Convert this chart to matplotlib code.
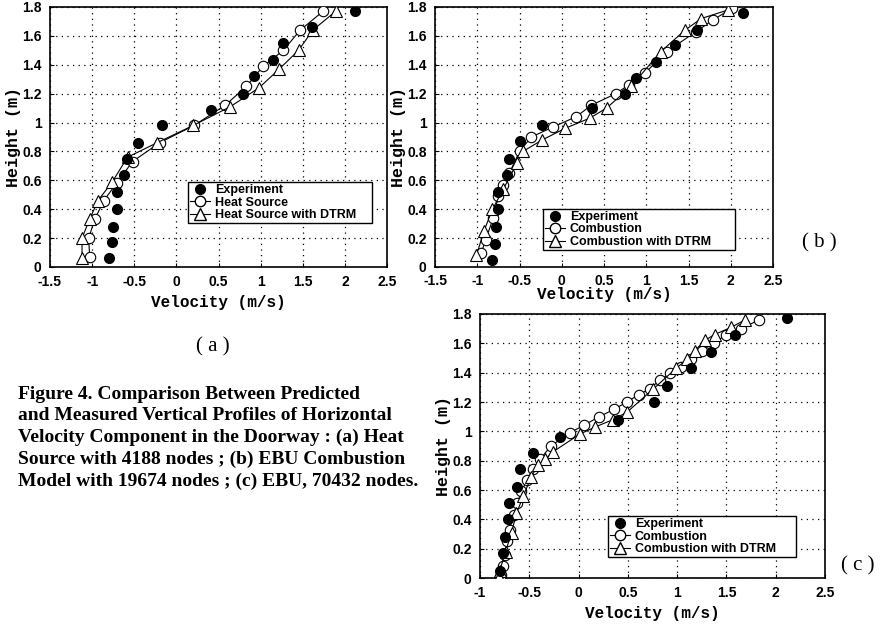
import matplotlib
matplotlib.use("Agg")
import matplotlib.pyplot as plt
from matplotlib.lines import Line2D

# ---------------- data ----------------
# Panel (a)
a_exp_v = [2.12, 1.61, 1.26, 1.15, 0.92, 0.79, 0.41, -0.17, -0.45, -0.59, -0.62, -0.71, -0.71, -0.75, -0.76, -0.80]
a_exp_h = [1.77, 1.66, 1.55, 1.43, 1.32, 1.20, 1.09, 0.98, 0.86, 0.75, 0.64, 0.52, 0.40, 0.28, 0.17, 0.06]
a_hs_v = [1.74, 1.47, 1.27, 1.03, 0.83, 0.58, 0.21, -0.20, -0.52, -0.71, -0.86, -0.97, -1.04, -1.03]
a_hs_h = [1.77, 1.64, 1.50, 1.39, 1.25, 1.12, 0.98, 0.86, 0.73, 0.58, 0.46, 0.33, 0.20, 0.07]
a_dt_v = [1.89, 1.62, 1.45, 1.22, 0.98, 0.64, 0.20, -0.23, -0.58, -0.76, -0.93, -1.03, -1.12, -1.12]
a_dt_h = [1.77, 1.64, 1.50, 1.37, 1.24, 1.11, 0.98, 0.86, 0.76, 0.59, 0.46, 0.33, 0.20, 0.06]

# Panel (b)
b_exp_v = [2.14, 1.60, 1.34, 1.12, 0.88, 0.75, 0.36, -0.23, -0.50, -0.63, -0.65, -0.75, -0.75, -0.78, -0.79, -0.82]
b_exp_h = [1.76, 1.64, 1.54, 1.42, 1.31, 1.20, 1.10, 0.98, 0.87, 0.75, 0.64, 0.52, 0.40, 0.28, 0.16, 0.05]
b_co_v = [2.01, 1.79, 1.59, 1.24, 0.98, 0.79, 0.64, 0.35, 0.17, -0.10, -0.36, -0.50, -0.62, -0.70, -0.75, -0.81, -0.90, -0.95]
b_co_h = [1.79, 1.71, 1.63, 1.49, 1.34, 1.26, 1.20, 1.12, 1.04, 0.97, 0.90, 0.80, 0.65, 0.57, 0.49, 0.34, 0.19, 0.10]
b_dt_v = [1.97, 1.65, 1.46, 1.17, 0.82, 0.53, 0.33, 0.04, -0.23, -0.46, -0.53, -0.69, -0.82, -0.92, -1.01]
b_dt_h = [1.78, 1.72, 1.64, 1.49, 1.25, 1.10, 1.03, 0.96, 0.88, 0.80, 0.72, 0.54, 0.40, 0.25, 0.08]

# Panel (c)
c_exp_v = [2.11, 1.59, 1.34, 1.14, 0.90, 0.77, 0.40, -0.19, -0.46, -0.59, -0.62, -0.71, -0.72, -0.75, -0.77, -0.80]
c_exp_h = [1.77, 1.66, 1.54, 1.43, 1.31, 1.20, 1.08, 0.96, 0.85, 0.74, 0.62, 0.51, 0.40, 0.28, 0.17, 0.05]
c_co_v = [1.83, 1.65, 1.50, 1.37, 1.25, 1.14, 1.04, 0.93, 0.83, 0.72, 0.61, 0.49, 0.36, 0.21, 0.05, -0.09,
          -0.28, -0.39, -0.46, -0.52, -0.58, -0.62, -0.66, -0.70, -0.73, -0.75, -0.77, -0.79]
c_co_h = [1.76, 1.70, 1.66, 1.60, 1.55, 1.49, 1.44, 1.40, 1.35, 1.29, 1.25, 1.20, 1.15, 1.10, 1.04, 0.99,
          0.90, 0.81, 0.74, 0.67, 0.59, 0.51, 0.43, 0.33, 0.25, 0.16, 0.08, 0.02]
c_dt_v = [1.69, 1.55, 1.38, 1.28, 1.18, 1.10, 0.99, 0.76, 0.49, 0.35, 0.17, 0.01, -0.26, -0.34, -0.41,
          -0.48, -0.56, -0.63, -0.68, -0.74, -0.80, -0.81]
c_dt_h = [1.76, 1.71, 1.66, 1.62, 1.55, 1.49, 1.43, 1.29, 1.13, 1.08, 1.03, 0.98, 0.86, 0.81, 0.77,
          0.69, 0.56, 0.44, 0.31, 0.18, 0.05, 0.01]

ab_xticks = [-1.5, -1, -0.5, 0, 0.5, 1, 1.5, 2, 2.5]
ab_xlabels = ["-1.5", "-1", "-0.5", "0", "0.5", "1", "1.5", "2", "2.5"]
c_xticks = [-1, -0.5, 0, 0.5, 1, 1.5, 2, 2.5]
c_xlabels = ["-1", "-0.5", "0", "0.5", "1", "1.5", "2", "2.5"]
yticks = [0, 0.2, 0.4, 0.6, 0.8, 1.0, 1.2, 1.4, 1.6, 1.8]
ylabels = ["0", "0.2", "0.4", "0.6", "0.8", "1", "1.2", "1.4", "1.6", "1.8"]

caption = ("Figure 4. Comparison Between Predicted\n"
           "and Measured Vertical Profiles of Horizontal\n"
           "Velocity Component in the Doorway : (a) Heat\n"
           "Source with 4188 nodes ; (b) EBU Combustion\n"
           "Model with 19674 nodes ; (c) EBU, 70432 nodes.")

# ---------------- figure ----------------
W, H = 890, 626
fig = plt.figure(figsize=(W / 100, H / 100), dpi=100)

def box(l, t, r, b):
    return [l / W, 1 - b / H, (r - l) / W, (b - t) / H]

sans = "Liberation Sans"
mono = "Liberation Mono"
serif = "Liberation Serif"

def panel(rect, ev, eh, mv, mh, tv, th, names, xticks, xlabels, xlim, leg_rect, xlabel_pad, xtick_pad=6):
    ax = fig.add_axes(rect)
    ax.plot(mv, mh, color="black", lw=0.8, marker="o", ms=7.5, mfc="white", mec="black", mew=0.8, zorder=3)
    ax.plot(tv, th, color="black", lw=0.8, marker="^", ms=8, mfc="white", mec="black", mew=0.8, zorder=3)
    ax.plot(ev, eh, ls="none", marker="o", ms=7, color="black", zorder=4)
    ax.set_xlim(*xlim)
    ax.set_ylim(0, 1.8)
    ax.set_xticks(xticks)
    ax.set_xticklabels(xlabels, fontfamily=sans, fontweight="bold", fontsize=10)
    ax.set_yticks(yticks)
    ax.set_yticklabels(ylabels, fontfamily=sans, fontweight="bold", fontsize=10)
    ax.tick_params(direction="in", length=3, width=0.8)
    ax.tick_params(axis="x", pad=xtick_pad)
    ax.tick_params(axis="y", pad=6)
    ax.grid(True, color="black", lw=0.9, ls=(0, (1, 3.5)))
    for s in ax.spines.values():
        s.set_linewidth(1.2)
    ax.set_xlabel("Velocity (m/s)", fontfamily=mono, fontweight="bold", fontsize=11.5, labelpad=xlabel_pad)
    ax.set_ylabel("Height (m)", fontfamily=mono, fontweight="bold", fontsize=12, labelpad=1)
    handles = [
        Line2D([], [], ls="none", marker="o", ms=7, color="black"),
        Line2D([], [], color="black", lw=0.8, marker="o", ms=7.5, mfc="white", mec="black"),
        Line2D([], [], color="black", lw=0.8, marker="^", ms=8, mfc="white", mec="black"),
    ]
    leg = ax.legend(handles, names, loc="lower left",
                    bbox_to_anchor=(leg_rect[0], leg_rect[1], leg_rect[2], leg_rect[3]),
                    bbox_transform=fig.transFigure, mode="expand",
                    prop={"family": sans, "weight": "bold", "size": 9},
                    frameon=True, fancybox=False, edgecolor="black", framealpha=1,
                    handlelength=1.6, handletextpad=0.4, borderpad=0.15, labelspacing=0.05,
                    borderaxespad=0)
    leg.get_frame().set_linewidth(1.0)
    return ax

# panel (a)
panel(box(50, 7, 387, 267), a_exp_v, a_exp_h, a_hs_v, a_hs_h, a_dt_v, a_dt_h,
      ["Experiment", "Heat Source", "Heat Source with DTRM"],
      ab_xticks, ab_xlabels, (-1.5, 2.5), box(188, 172, 372, 223), 4)
# panel (b)
panel(box(435, 7, 773, 267), b_exp_v, b_exp_h, b_co_v, b_co_h, b_dt_v, b_dt_h,
      ["Experiment", "Combustion", "Combustion with DTRM"],
      ab_xticks, ab_xlabels, (-1.5, 2.5), box(543, 198, 735, 250), -1, xtick_pad=5)
# panel (c)
panel(box(480, 314, 825, 578), c_exp_v, c_exp_h, c_co_v, c_co_h, c_dt_v, c_dt_h,
      ["Experiment", "Combustion", "Combustion with DTRM"],
      c_xticks, c_xlabels, (-1, 2.5), box(608, 505, 796, 557), 4)

fig.text(213 / W, 1 - 347 / H, "( a )", fontfamily=serif, fontsize=15, ha="center", va="center")
fig.text(819 / W, 1 - 243 / H, "( b )", fontfamily=serif, fontsize=15, ha="center", va="center")
fig.text(858 / W, 1 - 566 / H, "( c )", fontfamily=serif, fontsize=15, ha="center", va="center")

fig.text(18 / W, 1 - 386 / H, caption, fontfamily=serif, fontweight="bold", fontsize=14,
         ha="left", va="top", linespacing=1.34)

fig.savefig("out.png", dpi=100)
